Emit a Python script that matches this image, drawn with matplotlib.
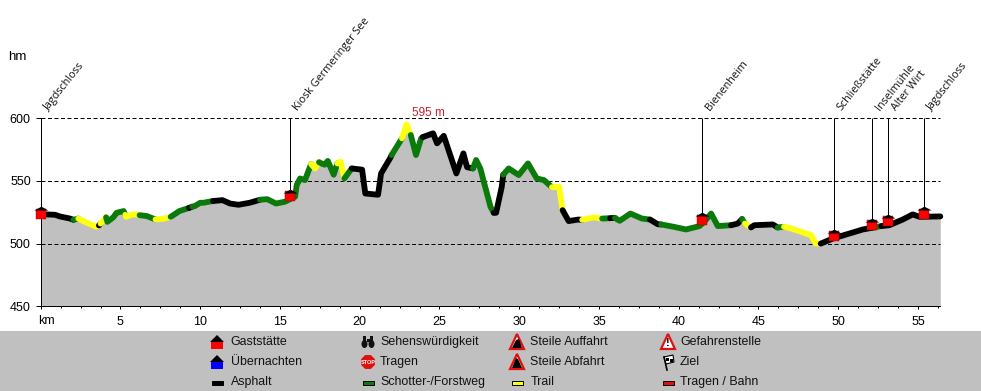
import matplotlib
matplotlib.use("Agg")
import matplotlib.pyplot as plt
from matplotlib.patches import Polygon, Rectangle, Ellipse, RegularPolygon
from matplotlib.path import Path
from matplotlib.transforms import offset_copy

# profile. surface[i] is the way type going on from point i
km = [0, 0.9, 1.2, 1.84, 2.05, 2.36, 2.9, 3.5, 3.65, 3.75,
      4.1, 4.18, 4.55, 4.76, 5.2, 5.3, 5.35, 5.8, 6.2, 6.65,
      7.2, 7.7, 8.15, 8.7, 9.3, 9.5, 9.67, 10, 10.2, 10.8,
      11.4, 11.87, 12.4, 13.1, 13.75, 14.2, 14.75, 15.3, 15.95, 16.05,
      16.26, 16.57, 16.95, 17.2, 17.45, 17.6, 17.8, 18.0, 18.37, 18.6,
      18.8, 19.04, 19.5, 20.15, 20.35, 21.15, 21.34, 21.9, 22.0, 22.65,
      22.93, 23.2, 23.53, 23.85, 23.95, 24.6, 24.85, 25.27, 26.06, 26.5,
      26.73, 27.1, 27.3, 27.56, 28.2, 28.4, 28.55, 28.9, 29.0, 29.34,
      29.97, 30.55, 31.1, 31.55, 32.05, 32.5, 32.72, 33.1, 33.7, 33.95,
      34.67, 35.2, 35.7, 36.0, 36.3, 36.97, 37.7, 38.2, 38.68, 38.9,
      39.7, 40.46, 41.3, 41.6, 42.03, 42.45, 43.28, 43.7, 43.97, 44.15,
      44.53, 44.74, 45.9, 46.2, 46.6, 46.83, 47.56, 48.3, 48.6, 48.9,
      49.65, 50.5, 51.54, 52.3, 52.7, 53.2, 54.04, 54.67, 55.1, 56.4]
elev = [523.5, 523, 521.7, 520, 519, 520, 516.6, 513.4, 514.5, 516,
        521, 517.4, 521, 524.6, 526, 523, 521.4, 523.5, 522.7, 522,
        519.3, 519.8, 521.4, 526, 528.5, 529.5, 530, 532.6, 532.6, 534,
        534.7, 532, 531, 532.6, 535, 535.5, 532, 533.4, 537.4, 546.7,
        552, 550.7, 563.5, 560, 565, 564, 563, 566, 555, 564,
        565.4, 552, 560, 559, 540, 539, 556, 568, 570.7, 584,
        595, 586.7, 570.7, 584, 585, 588, 580, 586, 556, 572,
        561, 560, 566.7, 560, 529.4, 524.6, 524.6, 545, 555, 560,
        554.7, 564, 552, 550.7, 545, 545.4, 526.7, 518, 519.2, 519,
        520.9, 520, 520.3, 520.5, 518.2, 524, 520, 519.2, 515.5, 515.3,
        513.4, 511.3, 514, 517.4, 524, 514, 514.7, 516, 519.6, 516,
        512.9, 514.7, 515.3, 512.9, 513.4, 512.9, 510, 506.7, 500, 500,
        504, 507.3, 511.3, 513, 514, 514.7, 519.2, 523.3, 521.4, 521.7]
surface = list("aaaastttat"
               "ssssstttss"
               "ttssassssa"
               "aaaassssss"
               "ssttssssst"
               "tsaaaaaast"
               "tsssaaaaaa"
               "assssaaass"
               "ssssttaaat"
               "tsassssaas"
               "ssssssaast"
               "aaasttttta"
               "aaasaaaaaa")
poi_names = ["Jagdschloss", "Kiosk Germeringer See", "Bienenheim", "Schließstätte",
             "Inselmühle", "Alter Wirt", "Jagdschloss"]
poi_km = [0, 15.6, 41.44, 49.72, 52.1, 53.1, 55.36]
poi_elev = [524, 538, 519, 506, 514.7, 518, 524]
x_major = [0, 5, 10, 15, 20, 25, 30, 35, 40, 45, 50, 55]
y_major = [450, 500, 550, 600]

way_colors = {"a": "#000000", "s": "#0a7a0a", "t": "#ffff10"}
ui_font = "Liberation Sans"

fig = plt.figure(figsize=(9.81, 3.91), dpi=100, facecolor="white")
px = 72 / 100

# background band and legend live in pixel coordinates
bg = fig.add_axes([0, 0, 1, 1], zorder=0)
bg.set_xlim(0, 981)
bg.set_ylim(391, 0)
bg.axis("off")
bg.add_patch(Rectangle((0, 331), 981, 60, color="#c0c0c0", lw=0))

ax = fig.add_axes([40.7 / 981, (391 - 306.3) / 391, 899.6 / 981, 188 / 391], zorder=1)
ax.patch.set_alpha(0)
ax.set_xlim(0, 56.4)
ax.set_ylim(450, 600)
ax.fill_between(km, elev, 450, color="#c0c0c0", lw=0, zorder=1)
ax.plot([km[-1], km[-1]], [450, elev[-1]], color="#0a8080", lw=1 * px, zorder=1.5)

for y in y_major[1:]:
    ax.plot([0, 56.4], [y, y], color="black", lw=1 * px, ls=(0, (4, 2.5)), zorder=2, clip_on=False)

# one line per run of equal surface, joined to the next point
start = 0
for i in range(1, len(km)):
    if surface[i] != surface[start] or i == len(km) - 1:
        ax.plot(km[start:i + 1], elev[start:i + 1], color=way_colors[surface[start]], lw=4.2,
                solid_capstyle="round", solid_joinstyle="round", zorder=3, clip_on=False)
        start = i

ax.vlines(poi_km, poi_elev, 600, color="black", lw=1 * px, zorder=4)
roof = Path([(-1, 0), (1, 0), (0, 0.55), (-1, 0)])
roof_tr = offset_copy(ax.transData, fig=fig, y=3.5, units="dots")
ax.plot(poi_km, poi_elev, ls="", marker="s", ms=10.5 * px, mfc="#ff0000", mec="#900000", mew=0.3,
        zorder=5, clip_on=False)
ax.plot(poi_km, poi_elev, ls="", marker=roof, ms=14 * px, mfc="black", mec="black", mew=0,
        zorder=6, clip_on=False, transform=roof_tr)

for name, x in zip(poi_names, poi_km):
    ax.annotate(name, (x, 600), xytext=(6 * px, 9 * px), textcoords="offset points", rotation=51.5,
                rotation_mode="anchor", ha="left", va="center", fontsize=7.8,
                family="Open Sans", color="#111111")

ax.annotate("595 m", (24.3, 600), xytext=(0, 5 * px), textcoords="offset points", ha="center",
            va="center", fontsize=8.5, family=ui_font, color="#c8202c")

for side in ["top", "right"]:
    ax.spines[side].set_visible(False)
for side in ["left", "bottom"]:
    ax.spines[side].set_linewidth(1 * px)
ax.set_xticks(x_major)
ax.set_xticklabels([""] + [str(v) for v in x_major[1:]], family=ui_font, fontsize=9)
ax.set_xticks([v * 1.25 for v in range(1, 46) if v % 4], minor=True)
ax.set_yticks(y_major)
ax.set_yticklabels([str(v) for v in y_major], family=ui_font, fontsize=9)
ax.tick_params(axis="x", which="major", length=3 * px, width=1 * px, pad=4.5)
ax.tick_params(axis="x", which="minor", length=1.5 * px, width=1 * px)
ax.tick_params(axis="y", length=5 * px, width=1 * px, pad=3.5)

bg.text(46.5, 321, "km", ha="center", va="center", fontsize=9, family=ui_font)
bg.text(8, 57, "hm", ha="left", va="center", fontsize=9.5, family=ui_font)

# legend
col_icon = [217, 368, 517, 668]
col_text = [230.5, 380, 530.5, 680]
rows = [342, 362, 382]
legend_labels = [["Gaststätte", "Übernachten", "Asphalt"],
                 ["Sehenswürdigkeit", "Tragen", "Schotter-/Forstweg"],
                 ["Steile Auffahrt", "Steile Abfahrt", "Trail"],
                 ["Gefahrenstelle", "Ziel", "Tragen / Bahn"]]
for c, labels in enumerate(legend_labels):
    for r, label in enumerate(labels):
        bg.text(col_text[c], rows[r], label, ha="left", va="center", fontsize=8.9,
                family=ui_font, color="#111111")


def house(x, y, color):
    bg.add_patch(Rectangle((x - 6, y - 1), 12, 8, color=color, lw=0))
    bg.add_patch(Polygon([(x - 7, y), (x + 7, y), (x, y - 7)], color="black", lw=0))


def swatch(x, y, color):
    bg.add_patch(Rectangle((x - 5.5, y - 1.5), 11, 4, fc=color, ec="black", lw=0.7))


def warning(x, y):
    bg.add_patch(Polygon([(x - 7, y + 7), (x + 7, y + 7), (x, y - 8)], fc="white", ec="#e01010",
                         lw=1.6, joinstyle="miter"))


house(col_icon[0], rows[0], "#ff0000")
house(col_icon[0], rows[1], "#0000ff")
swatch(col_icon[0], rows[2], "black")

# binoculars
ix, iy = col_icon[1], rows[0]
for dx in (-3.5, 3.5):
    bg.add_patch(Ellipse((ix + dx, iy + 2), 6, 8, color="#111111", lw=0))
    bg.add_patch(Rectangle((ix + dx - 1.5, iy - 6), 3, 5, color="#111111", lw=0))
bg.add_patch(Rectangle((ix - 1.5, iy - 3), 3, 3, color="#111111", lw=0))
# stop sign
bg.add_patch(RegularPolygon((col_icon[1], rows[1]), 8, radius=7.5, orientation=0.39, color="#e01010", lw=0))
bg.text(col_icon[1], rows[1], "STOP", ha="center", va="center", fontsize=4, color="white",
        family=ui_font, weight="bold")
swatch(col_icon[1], rows[2], "#0a7a0a")

ix, iy = col_icon[2], rows[0]
warning(ix, iy)
bg.add_patch(Polygon([(ix - 5, iy + 6), (ix + 5, iy + 6), (ix + 2, iy - 3), (ix - 1, iy - 2)], color="black", lw=0))
ix, iy = col_icon[2], rows[1]
warning(ix, iy)
bg.add_patch(Polygon([(ix - 5, iy + 6), (ix + 5, iy + 6), (ix + 1, iy - 3), (ix - 1, iy - 4)], color="black", lw=0))
swatch(col_icon[2], rows[2], "#ffff10")

ix, iy = col_icon[3], rows[0]
warning(ix, iy)
bg.text(ix, iy + 1.5, "!", ha="center", va="center", fontsize=8, weight="bold", family=ui_font)
# finish flag
ix, iy = col_icon[3], rows[1]
bg.plot([ix - 4, ix - 1], [iy - 5, iy + 8], color="black", lw=1.2)
bg.add_patch(Polygon([(ix - 4, iy - 5), (ix + 5, iy - 7), (ix + 6, iy), (ix - 2, iy + 2)], fc="white", ec="black", lw=0.8))
bg.add_patch(Rectangle((ix - 2, iy - 4), 3, 3, color="black", lw=0))
bg.add_patch(Rectangle((ix + 2, iy - 3), 3, 3, color="black", lw=0))
swatch(col_icon[3], rows[2], "#e01010")

fig.savefig("out.png", dpi=100)
